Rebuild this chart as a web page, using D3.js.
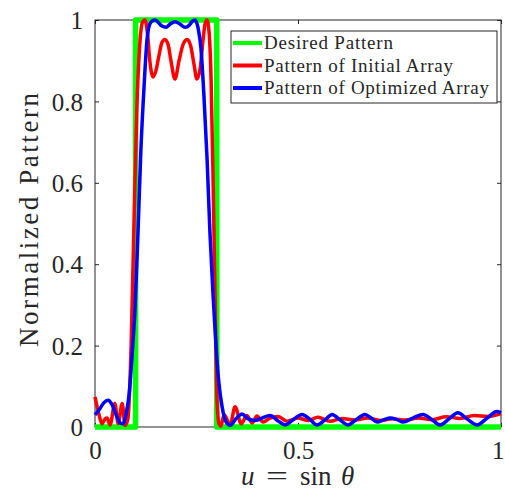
<!DOCTYPE html>
<html>
<head>
<meta charset="utf-8">
<script src="https://cdn.jsdelivr.net/npm/d3@7"></script>
<style>
  body { margin: 0; background: #fff; }
  text { font-family: "Liberation Serif", "DejaVu Serif", serif; fill: #262626; }
</style>
</head>
<body>
<div id="chart"></div>
<script>
// desired pattern (flat top between u = 0.1 and 0.3)
var desiredU = [0, 0.1, 0.1, 0.3, 0.3, 1];
var desiredV = [0, 0, 1, 1, 0, 0];

// pattern of initial array
var initialU = [0, 0.010, 0.017, 0.025, 0.030, 0.037, 0.049, 0.057, 0.067, 0.074,
  0.081, 0.089, 0.096, 0.103, 0.111, 0.117, 0.123, 0.129, 0.135, 0.143,
  0.150, 0.158, 0.165, 0.172, 0.180, 0.187, 0.197, 0.207, 0.217, 0.227,
  0.236, 0.244, 0.251, 0.259, 0.266, 0.271, 0.276, 0.281, 0.286, 0.291,
  0.296, 0.300, 0.305, 0.310, 0.318, 0.333, 0.345, 0.360, 0.374, 0.387,
  0.399, 0.414, 0.431, 0.451, 0.473, 0.500, 0.525, 0.549, 0.579, 0.608,
  0.640, 0.672, 0.702, 0.732, 0.764, 0.796, 0.830, 0.865, 0.899, 0.934,
  0.968, 1.0];
var initialV = [0.074, 0.030, 0.008, 0.020, 0.022, 0.005, 0.058, 0.008, 0.058, 0.004,
  0.020, 0.20, 0.50, 0.78, 0.95, 0.995, 1.0, 0.97, 0.90, 0.86,
  0.875, 0.915, 0.945, 0.952, 0.94, 0.90, 0.855, 0.90, 0.94, 0.952,
  0.935, 0.89, 0.855, 0.88, 0.95, 0.99, 1.0, 0.97, 0.85, 0.60,
  0.30, 0.08, 0.01, 0.002, 0.03, 0.005, 0.05, 0.008, 0.028, 0.010,
  0.027, 0.012, 0.022, 0.026, 0.014, 0.022, 0.016, 0.024, 0.014, 0.021,
  0.017, 0.022, 0.016, 0.020, 0.017, 0.022, 0.018, 0.025, 0.021, 0.028,
  0.026, 0.033];

// pattern of optimized array
var optimU = [0, 0.012, 0.022, 0.032, 0.042, 0.052, 0.062, 0.069, 0.076, 0.084,
  0.091, 0.099, 0.106, 0.113, 0.121, 0.128, 0.135, 0.143, 0.148, 0.155,
  0.165, 0.175, 0.185, 0.197, 0.209, 0.222, 0.232, 0.239, 0.246, 0.254,
  0.261, 0.268, 0.276, 0.283, 0.291, 0.298, 0.305, 0.313, 0.323, 0.333,
  0.347, 0.362, 0.377, 0.394, 0.411, 0.431, 0.451, 0.468, 0.488, 0.510,
  0.530, 0.547, 0.567, 0.584, 0.603, 0.623, 0.643, 0.665, 0.680, 0.695,
  0.712, 0.727, 0.744, 0.759, 0.783, 0.808, 0.830, 0.850, 0.872, 0.894,
  0.916, 0.941, 0.966, 0.990, 1.0];
var optimV = [0.030, 0.045, 0.060, 0.066, 0.055, 0.030, 0.010, 0.008, 0.030, 0.080,
  0.17, 0.30, 0.48, 0.68, 0.84, 0.95, 0.99, 0.999, 1.0, 0.995,
  0.985, 0.982, 0.99, 0.996, 0.99, 0.982, 0.987, 0.996, 1.0, 0.98,
  0.93, 0.82, 0.66, 0.48, 0.32, 0.20, 0.11, 0.05, 0.012, 0.004,
  0.020, 0.032, 0.020, 0.016, 0.022, 0.028, 0.015, 0.005, 0.018, 0.031,
  0.018, 0.005, 0.018, 0.031, 0.018, 0.005, 0.018, 0.031, 0.022, 0.012,
  0.018, 0.022, 0.018, 0.012, 0.022, 0.031, 0.018, 0.005, 0.020, 0.035,
  0.020, 0.005, 0.022, 0.038, 0.035];

var xTicks = [0, 0.5, 1];
var yTicks = [0, 0.2, 0.4, 0.6, 0.8, 1];
var legendLabels = ["Desired Pattern", "Pattern of Initial Array", "Pattern of Optimized Array"];
var legendWidths = [129, 189, 225];
var colors = ["#00ff00", "#ff0000", "#0000ff"];

var W = 505, H = 491;
var margin = {top: 20, right: 4, bottom: 64, left: 95},
    width = W - margin.left - margin.right,
    height = H - margin.top - margin.bottom;

var svg = d3.select("#chart")
  .append("svg")
    .attr("width", W)
    .attr("height", H)
  .append("g")
    .attr("transform", "translate(" + margin.left + "," + margin.top + ")");

var x = d3.scaleLinear().domain([0, 1]).range([0, width]);
var y = d3.scaleLinear().domain([0, 1]).range([height, 0]);

// axes, ticks pointing inwards
var fmt = d3.format("~g");
var xAxis = svg.append("g")
    .attr("transform", "translate(0," + height + ")")
    .call(d3.axisBottom(x).tickValues(xTicks).tickFormat(fmt).tickSizeInner(-4).tickSizeOuter(0).tickPadding(14));
var yAxis = svg.append("g")
    .call(d3.axisLeft(y).tickValues(yTicks).tickFormat(fmt).tickSizeInner(-4).tickSizeOuter(0).tickPadding(12));
svg.append("g")
    .call(d3.axisTop(x).tickValues(xTicks).tickFormat("").tickSizeInner(-4).tickSizeOuter(0));
svg.append("g")
    .attr("transform", "translate(" + width + ",0)")
    .call(d3.axisRight(y).tickValues(yTicks).tickFormat("").tickSizeInner(-4).tickSizeOuter(0));

svg.selectAll(".domain").remove();
svg.selectAll(".tick line").attr("stroke", "#262626");
svg.selectAll(".tick text")
    .style("font-family", "'Liberation Serif', 'DejaVu Serif', serif")
    .style("font-size", "25px")
    .attr("fill", "#262626");
yAxis.selectAll(".tick text").attr("dy", "0.35em");
// keep the last x label inside the window
xAxis.selectAll(".tick text").filter(function(d) { return d === 1; })
    .attr("text-anchor", "end").attr("dx", 3);

svg.append("rect")
    .attr("width", width)
    .attr("height", height)
    .attr("fill", "none")
    .attr("stroke", "#262626")
    .attr("stroke-width", 1);

// lines
var series = [
  {u: desiredU, v: desiredV, w: 5.5, curve: d3.curveLinear},
  {u: initialU, v: initialV, w: 3.5, curve: d3.curveMonotoneX},
  {u: optimU, v: optimV, w: 3.5, curve: d3.curveMonotoneX}
];

series.forEach(function(s, i) {
  var pts = s.u.map(function(u, j) { return [u, s.v[j]]; });
  var line = d3.line()
      .x(function(d) { return x(d[0]); })
      .y(function(d) { return y(d[1]); })
      .curve(s.curve);
  svg.append("path")
      .datum(pts)
      .attr("d", line)
      .attr("fill", "none")
      .attr("stroke", colors[i])
      .attr("stroke-width", s.w)
      .attr("stroke-linejoin", "round");
});

// axis labels
svg.append("text")
    .attr("transform", "translate(" + (38 - margin.left) + "," + (220 - margin.top) + ") rotate(-90)")
    .attr("text-anchor", "middle")
    .attr("textLength", 254)
    .attr("lengthAdjust", "spacing")
    .style("font-size", "27px")
    .text("Normalized Pattern");

// u = sin θ, pieces spaced like math typesetting
var xl = svg.append("text")
    .attr("y", 485 - margin.top)
    .style("font-size", "27px");
xl.append("tspan").attr("x", 241 - margin.left).style("font-style", "italic").text("u");
xl.append("tspan").attr("x", 266 - margin.left).attr("textLength", 22).attr("lengthAdjust", "spacingAndGlyphs").text("=");
xl.append("tspan").attr("x", 300 - margin.left).text("sin");
xl.append("tspan").attr("x", 341 - margin.left).style("font-style", "italic").text("θ");

// legend
var lg = svg.append("g").attr("transform", "translate(" + (231 - margin.left) + "," + (31 - margin.top) + ")");
lg.append("rect")
    .attr("width", 266)
    .attr("height", 72)
    .attr("fill", "#fff")
    .attr("stroke", "#262626")
    .attr("stroke-width", 1);
legendLabels.forEach(function(name, i) {
  var yy = 12 + i * 22.5;
  lg.append("line")
      .attr("x1", 2).attr("x2", 31)
      .attr("y1", yy).attr("y2", yy)
      .attr("stroke", colors[i])
      .attr("stroke-width", 4);
  lg.append("text")
      .attr("x", 33)
      .attr("y", yy)
      .attr("dy", "0.33em")
      .attr("textLength", legendWidths[i])
      .attr("lengthAdjust", "spacing")
      .style("font-size", "19px")
      .text(name);
});
</script>
</body>
</html>
